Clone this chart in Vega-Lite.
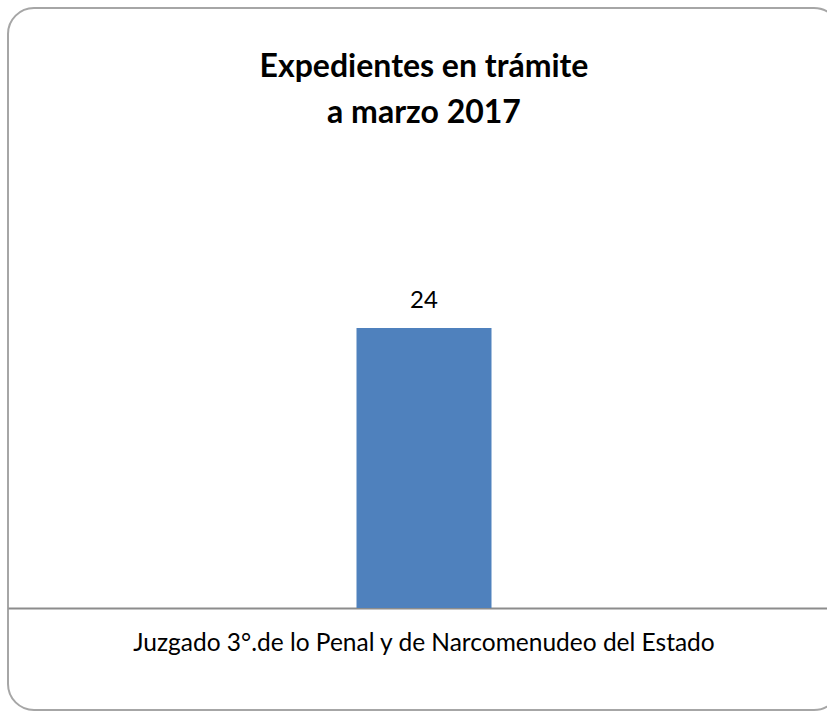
{
  "$schema": "https://vega.github.io/schema/vega-lite/v6.json",
  "autosize": "none",
  "width": 832,
  "height": 702,
  "padding": {"left": 8, "top": 8, "right": 0, "bottom": 1},
  "background": "white",
  "config": {
    "view": {"stroke": "#a6a6a6", "strokeWidth": 2, "cornerRadius": 26},
    "font": "Lato"
  },
  "title": {
    "text": ["Expedientes en trámite", "a marzo 2017"],
    "orient": "top",
    "anchor": "middle",
    "frame": "group",
    "baseline": "top",
    "offset": -122,
    "fontSize": 32,
    "fontWeight": "bold",
    "font": "Lato",
    "color": "#000000",
    "lineHeight": 46
  },
  "data": {"values": [{"juzgado": "Juzgado 3°.de lo Penal y de Narcomenudeo del Estado", "expedientes": 24}]},
  "encoding": {
    "x": {
      "field": "juzgado",
      "type": "nominal",
      "scale": {"paddingInner": 0, "paddingOuter": 0},
      "axis": {
        "title": null,
        "offset": -102,
        "domainColor": "#8c8c8c",
        "domainWidth": 2,
        "ticks": false,
        "labelAngle": 0,
        "labelFont": "Lato",
        "labelFontSize": 24.5,
        "labelColor": "#000000",
        "labelPadding": 23,
        "labelLimit": 0
      }
    },
    "y": {
      "field": "expedientes",
      "type": "quantitative",
      "scale": {"domain": [-8.74, 51.43], "nice": false, "zero": false},
      "axis": null
    }
  },
  "layer": [
    {"mark": {"type": "bar", "color": "#4f81bd", "size": 135}},
    {
      "mark": {"type": "text", "baseline": "alphabetic", "dy": -20, "fontSize": 24, "font": "Lato", "color": "#000000"},
      "encoding": {"text": {"field": "expedientes", "type": "quantitative"}}
    }
  ]
}
